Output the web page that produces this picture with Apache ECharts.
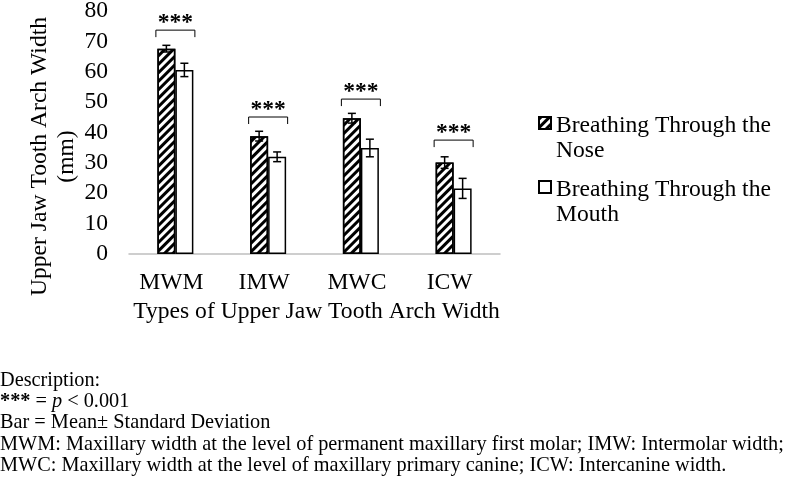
<!DOCTYPE html>
<html>
<head>
<meta charset="utf-8">
<script src="https://cdn.jsdelivr.net/npm/echarts@6/dist/echarts.min.js"></script>
<style>html,body{margin:0;padding:0;background:#fff}#c{width:790px;height:484px}</style>
</head>
<body>
<div id="c"></div>
<script>
const categories = ['MWM', 'IMW', 'MWC', 'ICW'];
const seriesNames = ['Breathing Through the Nose', 'Breathing Through the Mouth'];
const legendLines = [['Breathing Through the', 'Nose'], ['Breathing Through the', 'Mouth']];
const noseMean = [67.6, 38.8, 44.7, 30.1];
const noseSD = [1.1, 1.6, 1.6, 1.9];
const mouthMean = [60.6, 32.0, 34.9, 21.6];
const mouthSD = [2.2, 1.6, 2.9, 3.3];
const bracketLevel = [73.7, 45.1, 51.0, 37.5];
const sigLabel = ['***', '***', '***', '***'];
const yTicks = [0, 10, 20, 30, 40, 50, 60, 70, 80];
const descriptionLines = [
  'Description:',
  '*** = p < 0.001',
  'Bar = Mean\u00b1 Standard Deviation',
  'MWM: Maxillary width at the level of permanent maxillary first molar; IMW: Intermolar width;',
  'MWC: Maxillary width at the level of maxillary primary canine; ICW: Intercanine width.'
];

const FONT = '"Liberation Serif", "Times New Roman", serif';
const FS = 23.6;
const BAR_W = 18;

function errorSeries(means, sds, offset) {
  return {
    type: 'custom',
    silent: true,
    z: 5,
    data: means.map((m, i) => [i, m, sds[i]]),
    renderItem: function (params, api) {
      const i = api.value(0), m = api.value(1), sd = api.value(2);
      const hi = api.coord([i, m + sd]);
      const lo = api.coord([i, m - sd]);
      const x = hi[0] + offset;
      const cap = 4;
      const st = { stroke: '#000', lineWidth: 1.5 };
      return {
        type: 'group',
        children: [
          { type: 'line', shape: { x1: x, y1: hi[1], x2: x, y2: lo[1] }, style: st },
          { type: 'line', shape: { x1: x - cap, y1: hi[1], x2: x + cap, y2: hi[1] }, style: st },
          { type: 'line', shape: { x1: x - cap, y1: lo[1], x2: x + cap, y2: lo[1] }, style: st }
        ]
      };
    }
  };
}

const chart = echarts.init(document.getElementById('c'), null, { renderer: 'canvas' });
chart.setOption({
  backgroundColor: '#fff',
  animation: false,
  textStyle: { fontFamily: FONT, color: '#000' },
  grid: { left: 129, right: 290, top: 11, bottom: 230, containLabel: false, outerBoundsMode: 'none' },
  legend: {
    orient: 'vertical',
    left: 533,
    top: 88,
    icon: 'rect',
    itemWidth: 12,
    itemHeight: 12,
    itemGap: -6,
    selectedMode: false,
    data: seriesNames,
    formatter: function (name) {
      const k = seriesNames.indexOf(name);
      return '{e| }\n{t|' + legendLines[k][0] + '}\n{t|' + legendLines[k][1] + '}';
    },
    textStyle: {
      fontFamily: FONT, fontSize: FS, color: '#000',
      rich: {
        e: { fontSize: 10, lineHeight: 31 },
        t: { fontFamily: FONT, fontSize: FS, lineHeight: 25, color: '#000' }
      }
    }
  },
  xAxis: {
    type: 'category',
    data: categories,
    axisLine: { lineStyle: { color: '#bfbfbf', width: 1.5 } },
    axisTick: { show: false },
    axisLabel: { fontFamily: FONT, fontSize: FS, color: '#000', margin: 17, padding: [0, 8, 0, 0] },
    name: 'Types of Upper Jaw Tooth Arch Width',
    nameLocation: 'middle',
    nameGap: 44,
    nameTextStyle: { fontFamily: FONT, fontSize: FS, color: '#000', padding: [0, 0, 0, 4] }
  },
  yAxis: {
    type: 'value',
    min: yTicks[0],
    max: yTicks[yTicks.length - 1],
    interval: yTicks[1] - yTicks[0],
    axisLine: { show: false },
    axisTick: { show: false },
    splitLine: { show: false },
    axisLabel: { fontFamily: FONT, fontSize: FS, color: '#000', margin: 21 },
    name: 'Upper Jaw Tooth Arch Width\n(mm)',
    nameLocation: 'middle',
    nameRotate: 90,
    nameGap: 41,
    nameTextStyle: { fontFamily: FONT, fontSize: FS, color: '#000', lineHeight: 27, padding: [0, 48, 0, 0] }
  },
  series: [
    {
      name: seriesNames[0],
      type: 'bar',
      data: noseMean,
      barWidth: BAR_W,
      barGap: '0%',
      itemStyle: {
        color: '#fff',
        borderColor: '#000',
        borderWidth: 1.5,
        decal: {
          symbol: 'rect',
          symbolSize: 1,
          color: '#000',
          dashArrayX: [[1, 0]],
          dashArrayY: [3, 3],
          rotation: -Math.PI / 4
        }
      }
    },
    {
      name: seriesNames[1],
      type: 'bar',
      data: mouthMean,
      barWidth: BAR_W,
      barGap: '0%',
      itemStyle: { color: '#fff', borderColor: '#000', borderWidth: 1.5 }
    },
    errorSeries(noseMean, noseSD, -BAR_W / 2),
    errorSeries(mouthMean, mouthSD, BAR_W / 2),
    {
      type: 'custom',
      silent: true,
      z: 6,
      data: bracketLevel.map((v, i) => [i, v]),
      renderItem: function (params, api) {
        const i = api.value(0), v = api.value(1);
        const p = api.coord([i, v]);
        const half = 19.5, tick = 7;
        return {
          type: 'group',
          children: [
            {
              type: 'polyline',
              shape: { points: [[p[0] - half, p[1] + tick], [p[0] - half, p[1]], [p[0] + half, p[1]], [p[0] + half, p[1] + tick]] },
              style: { stroke: '#000', lineWidth: 1, fill: null }
            },
            {
              type: 'text',
              x: p[0],
              y: p[1] + 5,
              style: {
                text: sigLabel[i],
                fontFamily: FONT,
                fontWeight: 'bold',
                fontSize: FS,
                fill: '#000',
                align: 'center',
                verticalAlign: 'bottom'
              }
            }
          ]
        };
      }
    }
  ],
  graphic: descriptionLines.map((t, k) => {
    if (k === 1) {
      return {
        type: 'text', left: 0, top: 370.5 + k * 21.25,
        style: {
          text: '{b|***} = {i|p} < 0.001',
          fontFamily: FONT, fontSize: 20.3, fill: '#000',
          rich: {
            b: { fontFamily: FONT, fontSize: 20.3, fontWeight: 'bold', fill: '#000' },
            i: { fontFamily: FONT, fontSize: 20.3, fontStyle: 'italic', fill: '#000' }
          }
        }
      };
    }
    return {
      type: 'text', left: 0, top: 370.5 + k * 21.25,
      style: { text: t, fontFamily: FONT, fontSize: 20.3, fill: '#000' }
    };
  })
});
</script>
</body>
</html>
